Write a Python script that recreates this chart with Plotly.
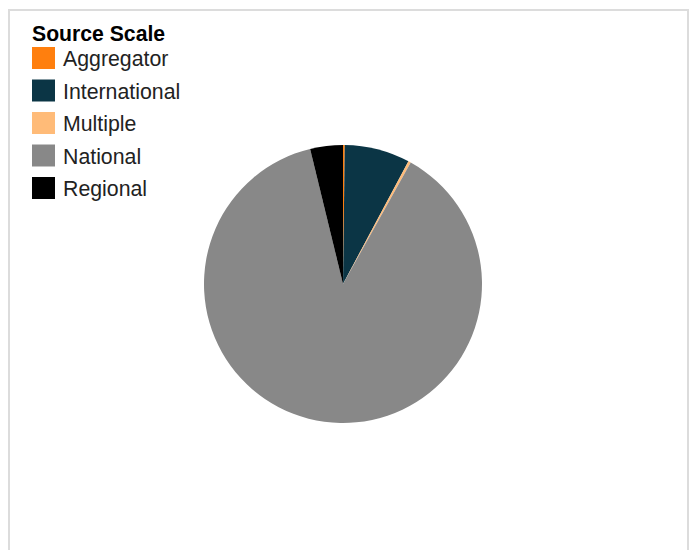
import plotly.graph_objects as go

labels = ["Aggregator", "International", "Multiple", "National", "Regional"]
values = [2, 76, 3, 881, 38]
colors = ["#ff7f0e", "#0b3545", "#ffbb78", "#888888", "#000000"]
legend_title = "Source Scale"

W, H = 694, 550

def px(x):
    return x / W

def py(y):
    return 1 - y / H

fig = go.Figure(go.Pie(
    labels=labels, values=values, sort=False, direction="clockwise", rotation=0,
    marker=dict(colors=colors, line=dict(width=0)),
    textinfo="none", hoverinfo="label+percent", showlegend=False,
    domain=dict(x=[px(204), px(482)], y=[py(423), py(145)]),
))

shapes = [dict(type="rect", xref="paper", yref="paper",
               x0=px(9), x1=px(688), y0=-0.2, y1=py(10),
               line=dict(color="#dcdcdc", width=2), fillcolor="rgba(0,0,0,0)", layer="below")]
annotations = [dict(text="<b>" + legend_title + "</b>", x=px(30), y=py(33), xref="paper", yref="paper",
                    xanchor="left", yanchor="middle", showarrow=False,
                    font=dict(family="Liberation Sans, Arial", size=21.2, color="#000"))]
step = 32.5
for i, (lab, col) in enumerate(zip(labels, colors)):
    yc = 58 + i * step
    shapes.append(dict(type="rect", xref="paper", yref="paper",
                       x0=px(32), x1=px(55), y0=py(yc + 11), y1=py(yc - 11),
                       fillcolor=col, line=dict(width=0)))
    annotations.append(dict(text=lab, x=px(61), y=py(yc + 1), xref="paper", yref="paper",
                            xanchor="left", yanchor="middle", showarrow=False,
                            font=dict(family="Liberation Sans, Arial", size=21.3, color="#222")))

fig.update_layout(
    width=W, height=H, margin=dict(l=0, r=0, t=0, b=0),
    paper_bgcolor="white", plot_bgcolor="white",
    shapes=shapes, annotations=annotations,
)
fig.write_html("out.html", config={"displayModeBar": False},
               post_script="document.body.style.margin='0';document.body.style.overflow='hidden';")
